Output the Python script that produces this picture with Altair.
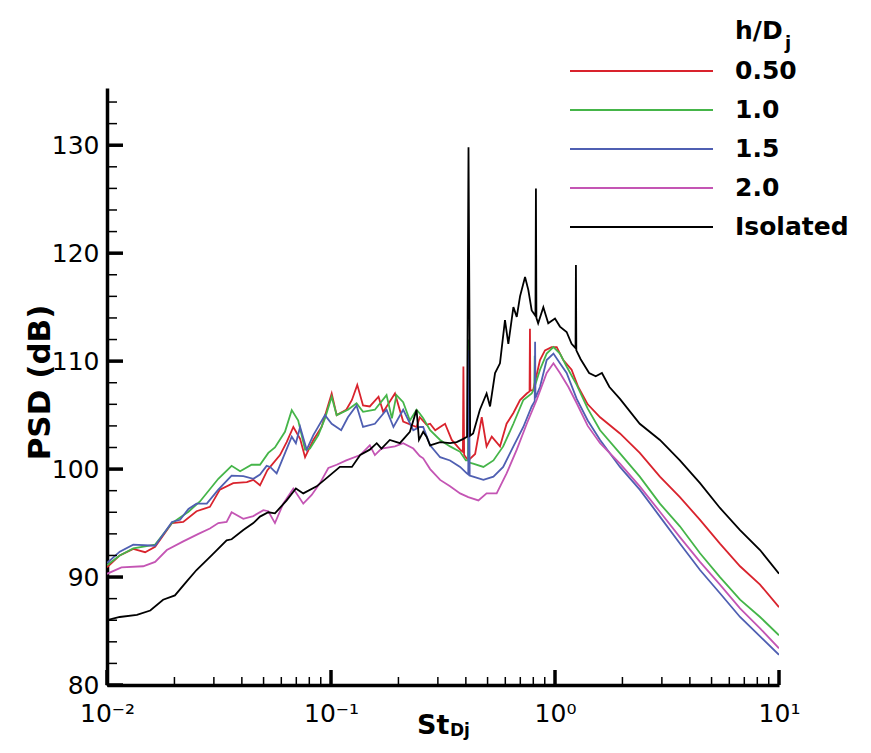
import altair as alt
import pandas as pd

series_labels = ["0.50", "1.0", "1.5", "2.0", "Isolated"]
series_colors = ["#d9232d", "#45b549", "#4f5fb2", "#c455b4", "#000000"]

red_st = [0.0100, 0.0114, 0.0131, 0.0148, 0.0164, 0.0195, 0.0219, 0.0251, 0.0288, 0.0319, 0.0366, 0.0421, 0.0450, 0.0482, 0.0520, 0.0535, 0.0592, 0.0634, 0.0679, 0.0728, 0.0766, 0.0834, 0.0908, 0.1007, 0.106, 0.117, 0.124, 0.131, 0.139, 0.149, 0.163, 0.171, 0.193, 0.210, 0.241, 0.249, 0.267, 0.277, 0.292, 0.307, 0.323, 0.346, 0.377, 0.388, 0.390, 0.393, 0.410, 0.440, 0.471, 0.495, 0.522, 0.568, 0.608, 0.652, 0.698, 0.748, 0.770, 0.773, 0.776, 0.799, 0.857, 0.902, 0.966, 1.018, 1.089, 1.186, 1.27, 1.40, 1.59, 1.95, 2.39, 2.94, 3.61, 4.44, 5.45, 6.70, 8.23, 10.0]
red_db = [90.9, 92.0, 92.6, 92.3, 92.8, 95.0, 95.1, 96.1, 96.5, 98.1, 98.7, 98.8, 99.0, 98.5, 99.9, 100.2, 101.3, 102.5, 103.9, 102.8, 101.1, 102.7, 103.9, 107.0, 105.0, 105.5, 106.4, 107.8, 105.9, 105.8, 106.7, 105.3, 107.0, 104.4, 103.9, 104.8, 104.1, 104.2, 103.6, 103.9, 104.2, 102.7, 101.8, 101.6, 109.5, 101.3, 100.8, 101.4, 104.8, 102.1, 103.0, 102.1, 104.2, 105.2, 106.4, 107.0, 107.2, 113.0, 107.3, 107.3, 110.1, 111.0, 111.3, 111.3, 110.1, 109.2, 107.6, 106.0, 104.8, 103.3, 101.5, 99.3, 97.4, 95.3, 93.1, 91.0, 89.3, 87.2]

green_st = [0.0100, 0.0114, 0.0131, 0.0164, 0.0195, 0.0231, 0.0260, 0.0314, 0.0360, 0.0393, 0.0442, 0.0482, 0.0525, 0.0562, 0.0623, 0.0668, 0.0714, 0.0766, 0.0806, 0.0878, 0.0940, 0.1007, 0.106, 0.119, 0.130, 0.139, 0.157, 0.177, 0.187, 0.196, 0.210, 0.225, 0.241, 0.249, 0.258, 0.277, 0.307, 0.340, 0.377, 0.400, 0.409, 0.411, 0.414, 0.431, 0.479, 0.531, 0.587, 0.652, 0.722, 0.787, 0.808, 0.812, 0.816, 0.857, 0.918, 0.984, 1.052, 1.127, 1.25, 1.40, 1.59, 1.95, 2.39, 2.94, 3.61, 4.44, 5.45, 6.70, 8.23, 10.0]
green_db = [91.1, 92.0, 92.65, 93.0, 95.0, 96.05, 97.0, 99.1, 100.3, 99.8, 100.4, 100.4, 101.5, 102.0, 103.45, 105.46, 104.5, 101.8, 101.9, 103.15, 104.7, 106.7, 105.0, 105.5, 106.1, 105.3, 105.5, 106.85, 104.7, 106.85, 106.2, 104.5, 105.5, 105.15, 104.7, 103.6, 102.7, 102.1, 101.6, 100.8, 100.8, 112.0, 100.6, 100.5, 100.2, 100.8, 102.1, 104.2, 106.4, 107.0, 107.5, 110.5, 107.8, 109.2, 110.7, 111.3, 110.7, 109.5, 107.8, 105.6, 103.6, 101.45, 99.3, 96.8, 94.7, 92.2, 90.0, 87.9, 86.3, 84.6]

blue_st = [0.0100, 0.0114, 0.0131, 0.0164, 0.0195, 0.0212, 0.0231, 0.0251, 0.0279, 0.0314, 0.0360, 0.0406, 0.0450, 0.0482, 0.0516, 0.0535, 0.0572, 0.0668, 0.0697, 0.0728, 0.0779, 0.0834, 0.0940, 0.1007, 0.111, 0.119, 0.130, 0.139, 0.157, 0.177, 0.190, 0.210, 0.233, 0.249, 0.258, 0.277, 0.307, 0.340, 0.377, 0.404, 0.410, 0.413, 0.416, 0.431, 0.479, 0.531, 0.587, 0.652, 0.722, 0.787, 0.812, 0.815, 0.818, 0.857, 0.918, 0.984, 1.052, 1.127, 1.25, 1.40, 1.59, 1.95, 2.39, 2.94, 3.61, 4.44, 5.45, 6.70, 8.23, 10.0]
blue_db = [91.3, 92.35, 93.0, 92.9, 95.1, 95.3, 96.3, 96.8, 96.8, 98.1, 99.4, 99.35, 99.1, 99.5, 100.3, 100.2, 99.6, 103.0, 102.4, 103.9, 101.8, 103.15, 105.0, 104.2, 103.6, 104.8, 105.9, 103.9, 104.2, 105.5, 103.9, 105.5, 103.6, 103.9, 103.9, 102.2, 101.1, 100.8, 100.2, 99.6, 99.5, 111.0, 99.4, 99.3, 99.0, 99.3, 100.2, 102.1, 103.9, 105.8, 106.3, 111.8, 106.6, 107.6, 110.1, 110.7, 109.8, 108.9, 106.5, 104.5, 102.7, 100.2, 98.1, 95.6, 93.1, 90.65, 88.5, 86.3, 84.5, 82.8]

magenta_st = [0.0100, 0.0116, 0.0145, 0.0164, 0.0185, 0.0219, 0.0256, 0.0288, 0.0314, 0.0342, 0.0360, 0.0406, 0.0450, 0.0499, 0.0525, 0.0562, 0.0612, 0.0679, 0.0752, 0.0820, 0.0893, 0.0973, 0.106, 0.117, 0.135, 0.149, 0.157, 0.168, 0.193, 0.210, 0.233, 0.249, 0.258, 0.277, 0.307, 0.340, 0.377, 0.410, 0.455, 0.495, 0.549, 0.608, 0.675, 0.748, 0.828, 0.918, 0.984, 1.052, 1.148, 1.25, 1.40, 1.59, 1.95, 2.39, 2.94, 3.61, 4.44, 5.45, 6.70, 8.23, 10.0]
magenta_db = [90.3, 90.9, 91.0, 91.4, 92.5, 93.3, 94.0, 94.5, 95.0, 95.1, 96.0, 95.4, 95.65, 96.2, 96.1, 95.0, 96.8, 98.2, 96.8, 97.6, 98.7, 100.1, 100.4, 100.8, 101.3, 102.2, 101.3, 101.9, 102.1, 102.4, 101.9, 101.2, 101.0, 100.0, 99.0, 98.4, 97.75, 97.4, 97.1, 97.75, 97.75, 99.6, 101.8, 104.2, 106.4, 108.9, 109.8, 108.9, 107.6, 106.1, 104.0, 102.4, 100.5, 98.4, 96.05, 93.7, 91.4, 89.3, 87.1, 85.25, 83.4]

black_st = [0.0100, 0.0114, 0.0136, 0.0156, 0.0178, 0.0201, 0.0227, 0.0251, 0.0293, 0.0342, 0.0360, 0.0406, 0.0450, 0.0482, 0.0525, 0.0562, 0.0634, 0.0697, 0.0752, 0.0863, 0.0973, 0.1096, 0.124, 0.135, 0.149, 0.160, 0.168, 0.183, 0.203, 0.225, 0.241, 0.247, 0.258, 0.267, 0.277, 0.307, 0.340, 0.364, 0.390, 0.405, 0.411, 0.418, 0.431, 0.462, 0.495, 0.513, 0.540, 0.568, 0.598, 0.619, 0.652, 0.675, 0.698, 0.735, 0.760, 0.787, 0.818, 0.822, 0.826, 0.841, 0.887, 0.933, 1.000, 1.052, 1.127, 1.186, 1.235, 1.240, 1.245, 1.30, 1.42, 1.52, 1.62, 1.75, 1.95, 2.39, 2.94, 3.61, 4.44, 5.45, 6.70, 8.23, 10.0]
black_db = [86.0, 86.3, 86.5, 86.9, 87.9, 88.3, 89.6, 90.65, 92.0, 93.4, 93.5, 94.35, 95.0, 95.6, 96.0, 95.9, 97.1, 98.2, 97.75, 98.4, 99.3, 100.2, 100.2, 101.3, 101.8, 102.4, 101.9, 102.7, 102.4, 103.45, 105.5, 102.7, 103.45, 103.0, 102.2, 102.5, 102.4, 102.5, 102.8, 103.0, 129.8, 103.1, 103.3, 105.5, 107.0, 105.8, 108.9, 109.8, 113.8, 111.6, 115.0, 114.1, 116.0, 117.8, 116.6, 114.7, 114.2, 126.0, 114.0, 113.5, 115.0, 113.5, 113.95, 113.2, 112.7, 111.6, 111.2, 118.9, 111.0, 110.2, 108.9, 108.6, 108.9, 107.6, 106.5, 104.2, 102.7, 100.8, 98.7, 96.4, 94.35, 92.5, 90.3]

x_major = [0.01, 0.1, 1, 10]
x_minor = [m * d for d in (0.01, 0.1, 1) for m in (2, 3, 4, 5, 6, 7, 8, 9)]
y_major = [80, 90, 100, 110, 120, 130]
y_minor = [v for v in range(82, 135, 2) if v % 10 != 0]

FONT = "DejaVu Sans"
W, H = 672, 597

rows = []
for name, st, db in [
    (series_labels[0], red_st, red_db),
    (series_labels[1], green_st, green_db),
    (series_labels[2], blue_st, blue_db),
    (series_labels[3], magenta_st, magenta_db),
    (series_labels[4], black_st, black_db),
]:
    for i, (s, d) in enumerate(zip(st, db)):
        rows.append({"series": name, "st": s, "db": d, "i": i})
df = pd.DataFrame(rows)

xscale = alt.Scale(type="log", domain=[0.01, 10])
yscale = alt.Scale(domain=[80, 135.3], nice=False, zero=False)
cscale = alt.Scale(domain=series_labels, range=series_colors)

label_expr = ("datum.value < 0.05 ? '10⁻²' : datum.value < 0.5 ? '10⁻¹' : "
              "datum.value < 5 ? '10⁰' : '10¹'")

xaxis = alt.Axis(
    values=x_major, labelExpr=label_expr, ticks=False, grid=False,
    domainWidth=3.5, domainColor="black", labelFont=FONT, labelFontSize=25,
    labelColor="black", labelPadding=16, labelFlush=False, title=None)
yaxis = alt.Axis(
    values=y_major, ticks=False, grid=False, domainWidth=3.5,
    domainColor="black", labelFont=FONT, labelFontSize=25, labelColor="black",
    labelPadding=8, title="PSD (dB)", titleFont=FONT, titleFontSize=31,
    titleFontWeight="bold", titleColor="black", titleAngle=270,
    titleX=-67, titleY=294, titleAlign="center", titleBaseline="middle")

lines = alt.Chart(df).mark_line(strokeWidth=1.8, clip=True).encode(
    x=alt.X("st:Q", scale=xscale, axis=xaxis),
    y=alt.Y("db:Q", scale=yscale, axis=yaxis),
    color=alt.Color("series:N", scale=cscale, legend=None),
    order=alt.Order("i:Q"),
)

def xticks(vals, length, width):
    return alt.Chart(pd.DataFrame({"st": vals})).mark_rule(
        color="black", strokeWidth=width).encode(
        x=alt.X("st:Q", scale=xscale, axis=xaxis),
        y=alt.value(H), y2=alt.value(H - length))

def yticks(vals, length, width):
    return alt.Chart(pd.DataFrame({"db": vals})).mark_rule(
        color="black", strokeWidth=width).encode(
        y=alt.Y("db:Q", scale=yscale, axis=yaxis),
        x=alt.value(0), x2=alt.value(length))

layers = [lines,
          xticks(x_major, 15, 3.5), xticks(x_minor, 8, 1.5),
          yticks(y_major, 16, 3.5), yticks(y_minor, 10, 1.5)]

one = pd.DataFrame({"k": [0]})

def text(t, x, y, size, weight="bold", baseline="alphabetic"):
    return alt.Chart(one).mark_text(
        align="left", baseline=baseline, font=FONT, fontSize=size,
        fontWeight=weight, color="black").encode(
        x=alt.value(x), y=alt.value(y), text=alt.value(t))

# legend
layers.append(text("h/D", 628, -49, 25))
layers.append(text("j", 678, -39, 18))
for k, (lab, col) in enumerate(zip(series_labels, series_colors)):
    ly = -17 + 39 * k
    layers.append(alt.Chart(pd.DataFrame({"series": [lab]})).mark_rule(
        strokeWidth=2).encode(
        x=alt.value(463), x2=alt.value(606), y=alt.value(ly),
        color=alt.Color("series:N", scale=cscale, legend=None)))
    layers.append(text(lab, 628, ly, 25, baseline="middle"))

# x title with subscript
layers.append(text("St", 310, 646, 27))
layers.append(text("Dj", 343, 648, 17))

chart = alt.layer(*layers).properties(
    width=W, height=H, background="white",
    autosize=alt.AutoSizeParams(type="none"),
    padding={"left": 99, "top": 80, "right": 80, "bottom": 57},
).configure_view(stroke="transparent", strokeWidth=0)

chart.save("out.html", embed_options={"renderer": "svg", "actions": False})
